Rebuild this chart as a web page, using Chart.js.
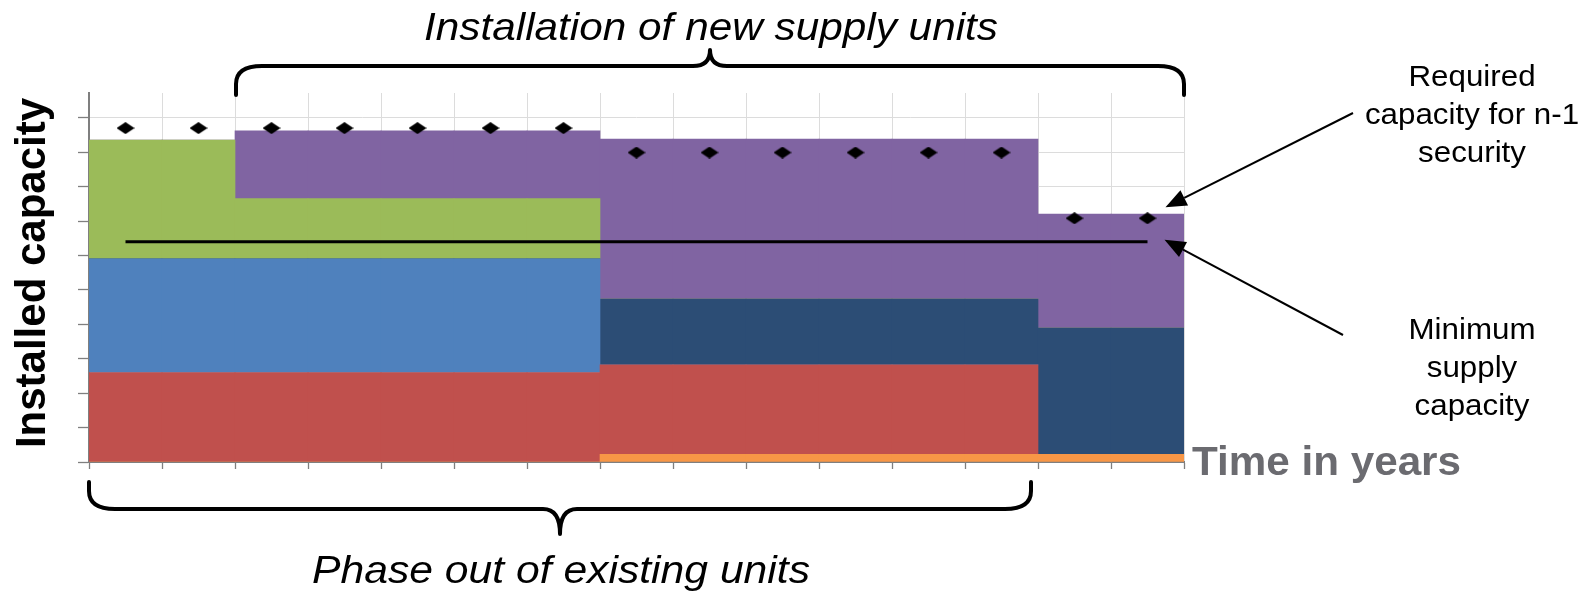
<!DOCTYPE html>
<html>
<head>
<meta charset="utf-8">
<script src="https://cdn.jsdelivr.net/npm/chart.js@4.4.1/dist/chart.umd.min.js"></script>
<style>
  html, body { margin: 0; padding: 0; background: #ffffff; }
  canvas { display: block; }
</style>
</head>
<body>
<canvas id="capacityChart" width="1585" height="593"></canvas>
<script>
// Time steps (years) along the horizontal axis
const years = ['Y1','Y2','Y3','Y4','Y5','Y6','Y7','Y8','Y9','Y10','Y11','Y12','Y13','Y14','Y15'];

// Installed capacity per unit group, stacked bottom to top
const orangeUnits   = [0, 0, 0, 0, 0, 0, 0, 0.22, 0.22, 0.22, 0.22, 0.22, 0.22, 0.22, 0.22];
const redUnits      = [2.6, 2.6, 2.6, 2.6, 2.6, 2.6, 2.6, 2.6, 2.6, 2.6, 2.6, 2.6, 2.6, 0, 0];
const blueUnits     = [3.3, 3.3, 3.3, 3.3, 3.3, 3.3, 3.3, 0, 0, 0, 0, 0, 0, 0, 0];
const darkBlueUnits = [0, 0, 0, 0, 0, 0, 0, 1.91, 1.91, 1.91, 1.91, 1.91, 1.91, 3.67, 3.67];
const greenUnits    = [3.45, 3.45, 1.75, 1.75, 1.75, 1.75, 1.75, 0, 0, 0, 0, 0, 0, 0, 0];
const purpleUnits   = [0, 0, 1.97, 1.97, 1.97, 1.97, 1.97, 4.65, 4.65, 4.65, 4.65, 4.65, 4.65, 3.31, 3.31];

// Required capacity for n-1 security and minimum supply capacity
const requiredN1    = [9.7, 9.7, 9.7, 9.7, 9.7, 9.7, 9.7, 8.99, 8.99, 8.99, 8.99, 8.99, 8.99, 7.08, 7.08];
const minimumSupply = [6.4, 6.4, 6.4, 6.4, 6.4, 6.4, 6.4, 6.4, 6.4, 6.4, 6.4, 6.4, 6.4, 6.4, 6.4];

// Value axis
const yMin = 0;
const yMax = 10.72;
const yStep = 1;

const FONT = '"Liberation Sans", Arial, Helvetica, sans-serif';
const AXIS_GREY = '#7f7f7f';
const GRID_GREY = '#dcdcdc';

// Flattened black diamond used as the point marker
function diamondMarker(w, h) {
  const c = document.createElement('canvas');
  c.width = w; c.height = h;
  const g = c.getContext('2d');
  g.fillStyle = '#000000';
  g.beginPath();
  g.moveTo(w / 2, 0);
  g.lineTo(w, h / 2);
  g.lineTo(w / 2, h);
  g.lineTo(0, h / 2);
  g.closePath();
  g.fill();
  return c;
}

// Draws a string stretched horizontally to a given width
function fitText(ctx, str, font, color, left, baseline, width) {
  ctx.save();
  ctx.font = font;
  ctx.fillStyle = color;
  ctx.textAlign = 'left';
  ctx.textBaseline = 'alphabetic';
  const natural = ctx.measureText(str).width;
  ctx.translate(left, baseline);
  ctx.scale(width / natural, 1);
  ctx.fillText(str, 0, 0);
  ctx.restore();
}

function centeredText(ctx, str, font, color, cx, baseline, sx) {
  ctx.save();
  ctx.font = font;
  ctx.fillStyle = color;
  ctx.textAlign = 'center';
  ctx.textBaseline = 'alphabetic';
  ctx.translate(cx, baseline);
  ctx.scale(sx, 1);
  ctx.fillText(str, 0, 0);
  ctx.restore();
}

// Curly brace: legs at yEnd, straight part at yMid, pointed tip at yTip
function brace(ctx, x0, x1, yEnd, yMid, yTip) {
  const xm = (x0 + x1) / 2;
  const s = Math.sign(yEnd - yMid);
  const r = 26;
  const t = 17;
  ctx.beginPath();
  ctx.moveTo(x0, yEnd);
  ctx.lineTo(x0, yMid + s * 18);
  ctx.quadraticCurveTo(x0, yMid, x0 + r, yMid);
  ctx.lineTo(xm - t, yMid);
  ctx.quadraticCurveTo(xm, yMid, xm, yTip);
  ctx.quadraticCurveTo(xm, yMid, xm + t, yMid);
  ctx.lineTo(x1 - r, yMid);
  ctx.quadraticCurveTo(x1, yMid, x1, yMid + s * 18);
  ctx.lineTo(x1, yEnd);
  ctx.stroke();
}

function arrow(ctx, fromX, fromY, toX, toY) {
  const ang = Math.atan2(toY - fromY, toX - fromX);
  const len = 21, half = 8.5;
  const bx = toX - Math.cos(ang) * len;
  const by = toY - Math.sin(ang) * len;
  ctx.beginPath();
  ctx.moveTo(fromX, fromY);
  ctx.lineTo(bx, by);
  ctx.stroke();
  ctx.beginPath();
  ctx.moveTo(toX, toY);
  ctx.lineTo(bx + Math.sin(ang) * half, by - Math.cos(ang) * half);
  ctx.lineTo(bx - Math.sin(ang) * half, by + Math.cos(ang) * half);
  ctx.closePath();
  ctx.fill();
}

// Titles, braces and callouts around the plot
const annotations = {
  id: 'annotations',
  afterDraw(chart) {
    const { ctx, chartArea, scales: { x, y } } = chart;
    const col = x.getPixelForValue(1) - x.getPixelForValue(0);
    const edge = i => x.getPixelForValue(0) - col / 2 + i * col;

    // Vertical axis title
    ctx.save();
    ctx.font = 'bold 42px ' + FONT;
    ctx.fillStyle = '#000000';
    ctx.textAlign = 'center';
    ctx.textBaseline = 'alphabetic';
    ctx.translate(45, 273);
    ctx.rotate(-Math.PI / 2);
    ctx.fillText('Installed capacity', 0, 0);
    ctx.restore();

    // Horizontal axis title
    fitText(ctx, 'Time in years', 'bold 41px ' + FONT, '#6b6b70', chartArea.right + 8, 475, 269);

    // Braces
    ctx.save();
    ctx.strokeStyle = '#000000';
    ctx.lineWidth = 4;
    ctx.lineCap = 'round';
    ctx.lineJoin = 'round';
    brace(ctx, edge(2) + 1, edge(15), 95, 66, 50);
    brace(ctx, edge(0), edge(13) - 7, 482, 509, 534);
    ctx.restore();

    // Brace captions
    fitText(ctx, 'Installation of new supply units', 'italic 38px ' + FONT, '#000000', 424, 40, 574);
    fitText(ctx, 'Phase out of existing units', 'italic 38px ' + FONT, '#000000', 312, 583, 498);

    // Callout labels
    const lf = '29px ' + FONT;
    const cx = 1472;
    centeredText(ctx, 'Required', lf, '#000000', cx, 86, 1.08);
    centeredText(ctx, 'capacity for n-1', lf, '#000000', cx, 124, 1.08);
    centeredText(ctx, 'security', lf, '#000000', cx, 162, 1.08);
    centeredText(ctx, 'Minimum', lf, '#000000', cx, 339, 1.08);
    centeredText(ctx, 'supply', lf, '#000000', cx, 377, 1.08);
    centeredText(ctx, 'capacity', lf, '#000000', cx, 415, 1.08);

    // Callout arrows pointing at the last year
    const lastX = x.getPixelForValue(years.length - 1);
    ctx.save();
    ctx.strokeStyle = '#000000';
    ctx.fillStyle = '#000000';
    ctx.lineWidth = 2;
    arrow(ctx, 1353, 113, lastX + 18, y.getPixelForValue(requiredN1[requiredN1.length - 1]) - 11);
    arrow(ctx, 1343, 335, lastX + 17, y.getPixelForValue(minimumSupply[minimumSupply.length - 1]) - 2);
    ctx.restore();
  }
};

function barSet(label, data, color) {
  return {
    type: 'bar',
    label,
    data,
    backgroundColor: color,
    borderWidth: 0,
    barPercentage: 1,
    categoryPercentage: 1,
    stack: 'capacity',
    order: 2
  };
}

new Chart(document.getElementById('capacityChart'), {
  type: 'bar',
  data: {
    labels: years,
    datasets: [
      barSet('Orange units', orangeUnits, '#F79646'),
      barSet('Red units', redUnits, '#C0504D'),
      barSet('Blue units', blueUnits, '#4F81BD'),
      barSet('Dark blue units', darkBlueUnits, '#2C4D75'),
      barSet('Green units', greenUnits, '#9BBB59'),
      barSet('Purple units', purpleUnits, '#8064A2'),
      {
        type: 'line',
        label: 'Minimum supply capacity',
        data: minimumSupply,
        borderColor: '#000000',
        borderWidth: 3,
        pointRadius: 0,
        fill: false,
        tension: 0,
        stack: 'minimum',
        order: 1
      },
      {
        type: 'line',
        label: 'Required capacity for n-1 security',
        data: requiredN1,
        showLine: false,
        pointStyle: diamondMarker(18, 12),
        pointRadius: 9,
        stack: 'required',
        order: 0
      }
    ]
  },
  options: {
    responsive: false,
    animation: false,
    events: [],
    layout: { padding: { left: 0, top: 93, right: 401, bottom: 0 } },
    plugins: { legend: { display: false }, tooltip: { enabled: false } },
    scales: {
      xg: {
        type: 'category',
        position: 'bottom',
        offset: true,
        z: 0,
        grid: { offset: true, color: GRID_GREY, lineWidth: 1, drawTicks: false },
        border: { display: false },
        ticks: { display: false },
        afterFit: s => { s.height = 0; }
      },
      yg: {
        type: 'linear',
        position: 'left',
        min: yMin,
        max: yMax,
        z: 0,
        grid: { color: GRID_GREY, lineWidth: 1, drawTicks: false },
        border: { display: false },
        ticks: { display: false, stepSize: yStep, includeBounds: false },
        afterFit: s => { s.width = 0; }
      },
      x: {
        type: 'category',
        position: 'bottom',
        stacked: true,
        offset: true,
        z: 1,
        grid: { offset: true, drawOnChartArea: false, tickLength: 7, tickColor: AXIS_GREY, tickWidth: 1.3 },
        border: { display: true, color: AXIS_GREY, width: 2 },
        ticks: { display: false },
        afterFit: s => { s.height = 131; }
      },
      y: {
        type: 'linear',
        position: 'left',
        stacked: true,
        min: yMin,
        max: yMax,
        z: 1,
        grid: { drawOnChartArea: false, tickLength: 11, tickColor: AXIS_GREY, tickWidth: 1.3 },
        border: { display: true, color: AXIS_GREY, width: 2 },
        ticks: { display: false, stepSize: yStep, includeBounds: false },
        afterFit: s => { s.width = 89; }
      }
    }
  },
  plugins: [annotations]
});
</script>
</body>
</html>
